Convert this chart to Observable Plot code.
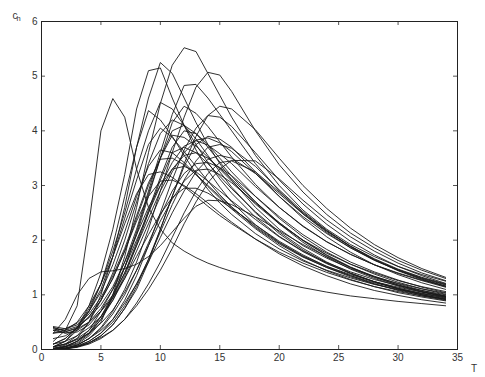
<!DOCTYPE html>
<html>
<head>
<meta charset="utf-8">
<script src="https://cdn.jsdelivr.net/npm/d3@7"></script>
<script src="https://cdn.jsdelivr.net/npm/@observablehq/plot@0.6"></script>
<style>
  html, body { margin: 0; padding: 0; background: #fff; }
</style>
</head>
<body>
<div id="chart"></div>
<script>
// Sample times (T)
const T = [1,2,3,4,5,6,7,8,9,10,11,12,13,14,15,16,18,20,22,24,26,28,30,32,34];

// c_h values of each curve at the times in T
const c01 = [0.15,0.35,0.8,2.3,4.0,4.59,4.25,3.3,2.6,2.2,1.95,1.8,1.68,1.58,1.5,1.43,1.32,1.22,1.13,1.05,0.98,0.93,0.88,0.84,0.80];
const c02 = [0.02,0.05,0.1,0.25,0.5,1.0,1.7,2.6,3.6,4.5,5.2,5.52,5.45,5.05,4.65,4.25,3.55,3.0,2.55,2.2,1.92,1.7,1.52,1.37,1.25];
const c03 = [0,0.02,0.08,0.2,0.4,0.7,1.1,1.6,2.2,2.9,3.6,4.25,4.8,5.07,5.02,4.72,4.0,3.38,2.88,2.47,2.13,1.86,1.63,1.45,1.3];
const c04 = [0,0.05,0.15,0.35,0.7,1.1,1.6,2.2,2.9,3.6,4.3,4.83,4.85,4.6,4.3,4.0,3.4,2.9,2.48,2.14,1.86,1.63,1.45,1.3,1.18];
const c05 = [0.02,0.08,0.2,0.5,1.0,1.7,2.6,3.7,4.6,5.25,5.05,4.6,4.15,3.75,3.4,3.1,2.6,2.2,1.9,1.67,1.48,1.33,1.21,1.11,1.03];
const c06 = [0.05,0.15,0.4,0.8,1.4,2.2,3.2,4.4,5.1,5.15,4.6,4.1,3.65,3.28,2.97,2.7,2.28,1.96,1.71,1.52,1.37,1.24,1.14,1.05,0.98];
const c07 = [0.05,0.15,0.35,0.7,1.2,1.9,2.8,3.7,4.37,4.2,3.9,3.55,3.22,2.93,2.68,2.47,2.12,1.84,1.62,1.45,1.31,1.19,1.1,1.02,0.95];
const c08 = [0.1,0.2,0.4,0.75,1.2,1.8,2.5,3.3,4.0,4.52,4.4,4.1,3.75,3.42,3.12,2.86,2.42,2.07,1.8,1.59,1.42,1.28,1.17,1.08,1.0];
const c09 = [0,0.05,0.15,0.3,0.6,1.0,1.5,2.1,2.8,3.5,4.15,4.45,4.32,4.08,3.8,3.52,3.02,2.6,2.25,1.97,1.74,1.55,1.4,1.27,1.16];
const c10 = [0,0.02,0.05,0.12,0.25,0.45,0.75,1.1,1.6,2.2,2.8,3.4,3.9,4.28,4.45,4.4,4.02,3.5,3.0,2.58,2.22,1.92,1.68,1.48,1.32];
const c11 = [0.1,0.2,0.4,0.7,1.1,1.7,2.4,3.1,3.75,4.05,3.88,3.62,3.35,3.08,2.83,2.61,2.23,1.93,1.69,1.5,1.35,1.22,1.12,1.03,0.96];
const c12 = [0.3,0.32,0.4,0.6,0.9,1.3,1.8,2.4,3.0,3.5,3.92,3.88,3.72,3.52,3.3,3.08,2.66,2.3,2.0,1.76,1.56,1.4,1.26,1.15,1.06];
const c13 = [0.38,0.3,0.35,0.5,0.75,1.1,1.5,2.0,2.5,3.0,3.42,3.72,3.82,3.74,3.58,3.4,2.98,2.6,2.26,1.97,1.74,1.55,1.39,1.26,1.14];
const c14 = [0.1,0.15,0.25,0.4,0.6,0.9,1.3,1.8,2.3,2.8,3.25,3.6,3.83,3.87,3.78,3.62,3.22,2.8,2.43,2.12,1.86,1.64,1.46,1.31,1.19];
const c15 = [0,0.03,0.08,0.2,0.35,0.55,0.85,1.2,1.6,2.05,2.5,2.9,3.25,3.48,3.55,3.5,3.22,2.85,2.48,2.16,1.89,1.66,1.47,1.32,1.2];
const c16 = [0,0.02,0.05,0.12,0.22,0.35,0.55,0.8,1.1,1.45,1.85,2.3,2.7,3.05,3.3,3.46,3.45,3.12,2.73,2.37,2.06,1.8,1.58,1.4,1.26];
const c17 = [0.3,0.55,1.0,1.3,1.42,1.44,1.48,1.56,1.7,1.9,2.15,2.4,2.62,2.73,2.72,2.65,2.43,2.17,1.92,1.7,1.5,1.34,1.2,1.08,0.98];
const c18 = [0.4,0.35,0.5,0.8,1.2,1.7,2.3,2.85,3.2,3.25,3.15,2.98,2.8,2.62,2.45,2.3,2.02,1.78,1.58,1.41,1.27,1.15,1.06,0.98,0.92];
const c19 = [0.05,0.1,0.25,0.5,0.9,1.4,2.0,2.7,3.4,3.95,4.2,4.1,3.85,3.55,3.25,2.97,2.5,2.12,1.82,1.58,1.39,1.24,1.11,1.0,0.92];
const c20 = [0.02,0.06,0.15,0.3,0.55,0.9,1.35,1.9,2.5,3.1,3.6,3.7,3.6,3.4,3.17,2.94,2.52,2.15,1.85,1.6,1.4,1.24,1.11,1.0,0.91];
const c21 = [0.35,0.3,0.32,0.45,0.7,1.0,1.4,1.9,2.4,2.9,3.3,3.55,3.6,3.5,3.32,3.12,2.7,2.32,1.99,1.72,1.5,1.32,1.18,1.06,0.97];
const c22 = [0,0.02,0.08,0.2,0.38,0.65,1.0,1.45,1.95,2.45,2.9,3.22,3.4,3.42,3.33,3.18,2.8,2.43,2.1,1.83,1.6,1.42,1.27,1.14,1.04];
const c23 = [0,0.01,0.05,0.12,0.25,0.45,0.75,1.15,1.65,2.2,2.8,3.35,3.75,3.9,3.85,3.7,3.25,2.8,2.4,2.06,1.78,1.55,1.37,1.22,1.1];
const c24 = [0.42,0.38,0.45,0.65,0.95,1.35,1.85,2.45,3.05,3.48,3.5,3.38,3.2,3.0,2.8,2.6,2.25,1.95,1.7,1.5,1.33,1.2,1.09,1.0,0.93];
const c25 = [0,0.02,0.06,0.15,0.3,0.5,0.8,1.2,1.65,2.15,2.65,3.1,3.45,3.7,3.75,3.68,3.35,2.92,2.52,2.18,1.89,1.65,1.45,1.29,1.16];
const c26 = [0.3,0.35,0.42,0.58,0.82,1.15,1.6,2.1,2.6,3.0,3.3,3.35,3.25,3.08,2.9,2.72,2.38,2.06,1.79,1.57,1.39,1.24,1.12,1.02,0.94];
const c27 = [0.05,0.1,0.2,0.35,0.6,0.95,1.4,1.95,2.55,3.15,3.7,4.0,3.95,3.75,3.5,3.25,2.8,2.4,2.06,1.78,1.56,1.38,1.23,1.11,1.01];
const c28 = [0,0.01,0.04,0.1,0.2,0.35,0.55,0.85,1.2,1.6,2.05,2.5,2.9,3.22,3.42,3.45,3.25,2.88,2.5,2.17,1.88,1.64,1.44,1.28,1.15];
const c29 = [0.2,0.25,0.38,0.6,0.9,1.3,1.8,2.35,2.8,3.08,3.1,3.0,2.85,2.68,2.5,2.33,2.02,1.75,1.53,1.35,1.2,1.08,0.99,0.91,0.85];
const c30 = [0,0.02,0.06,0.15,0.3,0.55,0.9,1.35,1.9,2.5,3.1,3.65,4.05,4.28,4.25,4.08,3.6,3.1,2.66,2.29,1.98,1.73,1.52,1.35,1.21];
const c31 = [0.35,0.38,0.48,0.7,1.05,1.55,2.15,2.8,3.35,3.65,3.6,3.42,3.2,2.98,2.77,2.57,2.21,1.9,1.64,1.44,1.28,1.15,1.04,0.96,0.89];
const c32 = [0.05,0.1,0.18,0.3,0.48,0.72,1.05,1.45,1.9,2.35,2.75,3.08,3.28,3.3,3.2,3.05,2.68,2.32,2.0,1.73,1.51,1.33,1.18,1.06,0.97];
const c33 = [0.02,0.05,0.12,0.28,0.55,0.95,1.5,2.15,2.85,3.5,4.0,4.1,3.95,3.7,3.43,3.17,2.7,2.3,1.96,1.69,1.47,1.3,1.16,1.05,0.96];
const c34 = [0.4,0.33,0.38,0.5,0.7,0.95,1.3,1.7,2.1,2.48,2.78,2.95,2.95,2.86,2.73,2.58,2.28,1.98,1.73,1.52,1.35,1.2,1.08,0.98,0.9];

const curves = [c01,c02,c03,c04,c05,c06,c07,c08,c09,c10,c11,c12,c13,c14,c15,c16,c17,
                c18,c19,c20,c21,c22,c23,c24,c25,c26,c27,c28,c29,c30,c31,c32,c33,c34];

// Axis ticks
const xTicks = [0,5,10,15,20,25,30,35];
const yTicks = [0,1,2,3,4,5,6];

const rows = curves.flatMap((vals, id) => vals.map((v, j) => ({t: T[j], v, id})));

const innerH = 377 - 21 - 28;
const innerW = 485 - 41 - 28;
const tk = 4;

const chart = Plot.plot({
  width: 485,
  height: 377,
  marginLeft: 41,
  marginRight: 28,
  marginTop: 21,
  marginBottom: 28,
  style: {fontFamily: "'Liberation Sans', Arial, sans-serif", fontSize: "10px", color: "#222", background: "#fff"},
  x: {domain: [0, 35]},
  y: {domain: [0, 6]},
  marks: [
    Plot.line(rows, {x: "t", y: "v", z: "id", stroke: "#1a1a1a", strokeWidth: 0.9}),
    // inward ticks on all four sides
    Plot.ruleX(xTicks, {stroke: "#555", insetTop: innerH - tk}),
    Plot.ruleX(xTicks, {stroke: "#555", insetBottom: innerH - tk}),
    Plot.ruleY(yTicks, {stroke: "#555", insetRight: innerW - tk}),
    Plot.ruleY(yTicks, {stroke: "#555", insetLeft: innerW - tk}),
    Plot.frame({stroke: "#222", strokeWidth: 1}),
    Plot.axisX({ticks: xTicks, tickFormat: d => String(d), tickSize: 0, tickPadding: 4, label: null, fill: "#333"}),
    Plot.axisY({ticks: yTicks, tickFormat: d => String(d), tickSize: 0, tickPadding: 4, label: null, fill: "#333"}),
    Plot.text(["c"], {frameAnchor: "top-left", dx: -29, dy: -9.5, fontSize: 10, fill: "#333"}),
    Plot.text(["h"], {frameAnchor: "top-left", dx: -25, dy: -6, fontSize: 7.5, fill: "#333"}),
    Plot.text(["T"], {frameAnchor: "bottom-right", dx: 19.5, dy: 22, fontSize: 10, fill: "#333"})
  ]
});

document.getElementById("chart").appendChild(chart);
</script>
</body>
</html>
